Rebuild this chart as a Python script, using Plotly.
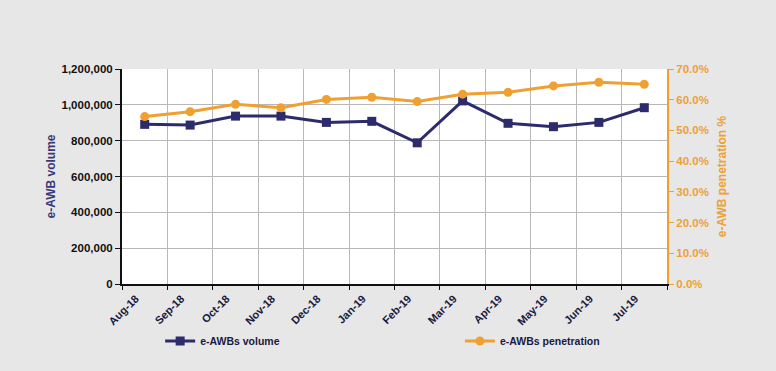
import plotly.graph_objects as go

months = ["Aug-18", "Sep-18", "Oct-18", "Nov-18", "Dec-18", "Jan-19",
          "Feb-19", "Mar-19", "Apr-19", "May-19", "Jun-19", "Jul-19"]
volume = [891000, 887000, 937000, 937000, 902000, 908000,
          788000, 1022000, 897000, 878000, 902000, 984000]
penetration = [0.545, 0.561, 0.585, 0.574, 0.601, 0.608,
               0.594, 0.618, 0.624, 0.645, 0.657, 0.650]

NAVY = "#2d2b6b"
ORANGE = "#efa031"
FONT = "Liberation Sans"

fig = go.Figure()
fig.add_trace(go.Scatter(
    x=months, y=volume, name="<b>e-AWBs volume</b>", mode="lines+markers",
    line=dict(color=NAVY, width=3),
    marker=dict(symbol="square", size=9, color=NAVY),
    legend="legend", yaxis="y"))
fig.add_trace(go.Scatter(
    x=months, y=penetration, name="<b>e-AWBs penetration</b>", mode="lines+markers",
    line=dict(color=ORANGE, width=3),
    marker=dict(symbol="circle", size=9, color=ORANGE),
    legend="legend2", yaxis="y2"))

fig.update_layout(
    width=776, height=371,
    margin=dict(l=122, r=109, t=69, b=87),
    paper_bgcolor="#e7e7e7", plot_bgcolor="#ffffff",
    font=dict(family=FONT, size=11, color="#111111"),
    showlegend=True,
    xaxis=dict(
        type="category", tickson="boundaries", tickangle=-45,
        showgrid=True, gridcolor="#b8b8b8", gridwidth=1,
        showline=True, linecolor="#111111", linewidth=2,
        ticks="outside", ticklen=4, tickcolor="#111111",
        ticklabelshift=-9, ticklabelstandoff=2,
        tickfont=dict(family=FONT, size=11, color="#1a1a40", weight="bold"),
        range=[-0.5, 11.5], fixedrange=True),
    yaxis=dict(
        range=[0, 1200000], dtick=200000, tickformat=",",
        showgrid=True, gridcolor="#b8b8b8", gridwidth=1, zeroline=False,
        showline=True, linecolor="#111111", linewidth=2,
        ticks="outside", ticklen=5, tickcolor="#111111",
        tickfont=dict(family=FONT, size=11.5, color="#111111", weight="bold"),
        title=dict(text="<b>e-AWB volume</b>", standoff=3,
                   font=dict(family=FONT, size=12, color="#3a3878"))),
    yaxis2=dict(
        overlaying="y", side="right", anchor="x",
        range=[0, 0.7], dtick=0.1, tickformat=".1%",
        showgrid=False, zeroline=False,
        showline=True, linecolor=ORANGE, linewidth=2,
        ticks="outside", ticklen=5, tickcolor=ORANGE,
        tickfont=dict(family=FONT, size=11.5, color=ORANGE, weight="bold"),
        title=dict(text="<b>e-AWB penetration %</b>", standoff=10,
                   font=dict(family=FONT, size=12, color=ORANGE))),
    legend=dict(x=0.07, y=-0.265, xanchor="left", yanchor="middle",
                bgcolor="rgba(0,0,0,0)", itemwidth=30,
                font=dict(family=FONT, size=10.5, color="#1a1a40")),
    legend2=dict(x=0.62, y=-0.265, xanchor="left", yanchor="middle",
                 bgcolor="rgba(0,0,0,0)", itemwidth=30,
                 font=dict(family=FONT, size=10.5, color="#1a1a40")),
)

fig.write_html("out.html", config={"displayModeBar": False},
               post_script="document.body.style.margin='0';document.body.style.background='#e7e7e7';")
